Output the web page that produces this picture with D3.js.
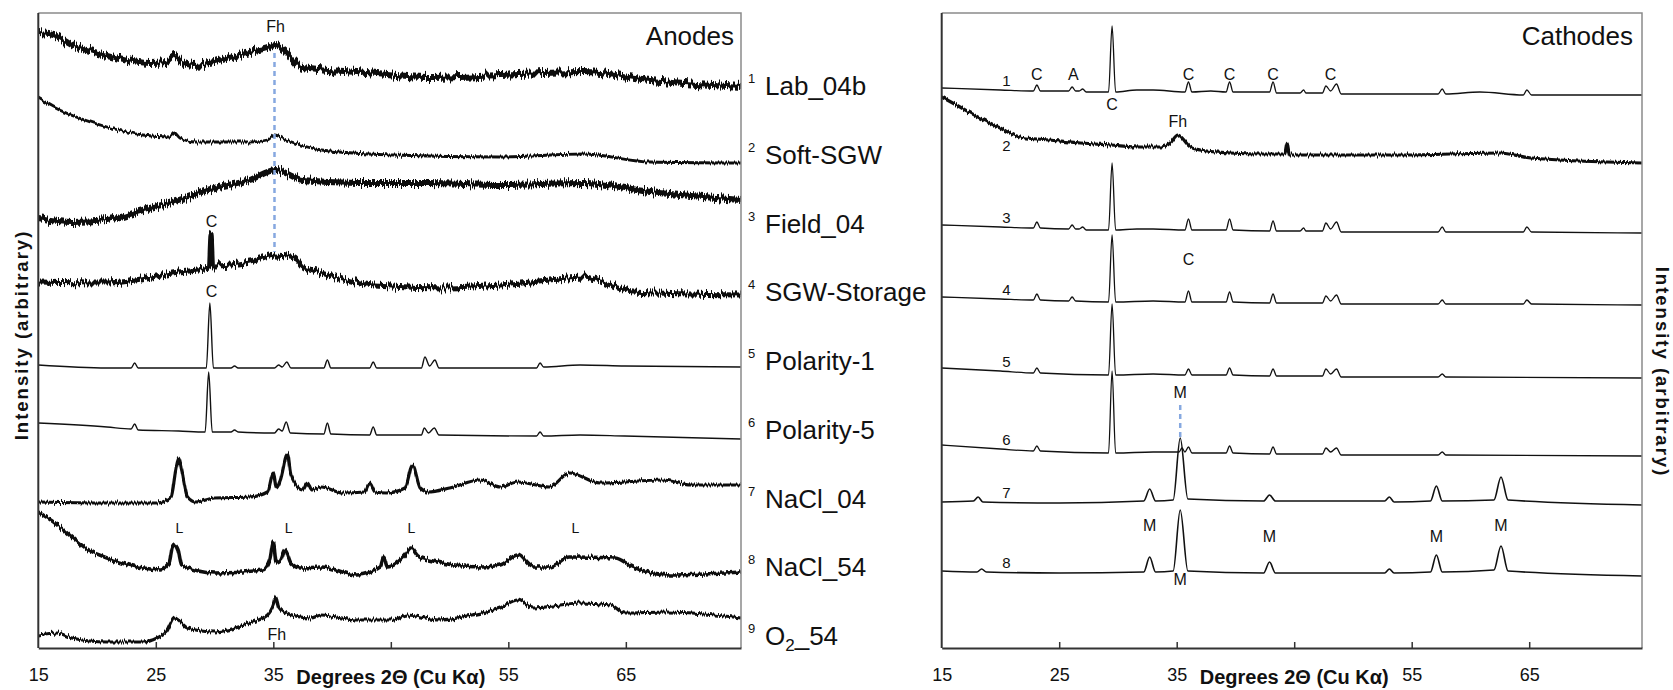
<!DOCTYPE html>
<html>
<head>
<meta charset="utf-8">
<script src="https://cdn.jsdelivr.net/npm/d3@7"></script>
<style>
  body { margin: 0; background: #fff; }
  svg text { font-family: "Liberation Sans", Arial, sans-serif; fill: #111; }
</style>
</head>
<body>
<div id="chart"></div>
<script>
// ---- data: [2theta (deg), intensity (arbitrary, stacked offset)] ----
const anodeNames = ["Lab_04b", "Soft-SGW", "Field_04", "SGW-Storage", "Polarity-1", "Polarity-5", "NaCl_04", "NaCl_54", "O2_54"];
const cathodeNames = ["1", "2", "3", "4", "5", "6", "7", "8"];
const tickValues = [15, 25, 35, 45, 55, 65];
const tickLabels = ["15", "25", "35", "", "55", "65"];

const lab04b = [[15,615],[16.3,613],[17.85,603],[20.85,593],[24.5,585],[25.9,586],[26.6,592],[27.2,586],[28.2,583],[30.0,586],[33.0,596],[34.5,600],[35.2,603],[35.9,598],[37.5,581],[42.1,576],[48.2,570],[54.3,573],[61.4,576],[67.1,568],[74.8,561]];
const softSGW = [[15,550],[16.3,541],[20.85,521],[23.9,513],[26.15,511],[26.6,515],[27.05,510],[28.4,506],[33.0,506],[34.5,508],[35.1,513],[36.1,508],[39.1,498],[45.2,493],[54.3,491],[61.4,494],[67.1,486],[74.8,485]];
const field04 = [[15,430],[17.85,426],[20.85,428],[23.9,438],[26.95,448],[30.0,460],[33.0,468],[35.2,478],[37.5,468],[42.1,465],[48.2,465],[54.3,463],[61.4,465],[67.1,456],[74.8,448]];
const sgwStorage = [[15,366],[20.85,365],[26.95,376],[29.55,380],[29.7,414],[29.85,382],[33.0,386],[35.2,393],[36.8,390],[37.5,381],[39.1,375],[43.65,363],[50.0,360],[54.3,363],[58.5,368],[61.4,371],[65.6,356],[74.8,353]];
const polarity1 = [[15,283],[20.85,280],[22.9,280],[23.2,285],[23.5,280],[29.3,280],[29.6,345],[29.9,280],[31.4,280],[31.7,282],[32.0,280],[35.1,280],[35.45,283],[35.75,281],[36.15,286],[36.5,280],[39.3,280],[39.6,288],[39.9,280],[43.2,280],[43.5,286],[43.8,280],[47.6,280],[47.9,291],[48.3,282],[48.75,288],[49.1,280],[57.4,280],[57.7,285],[58.0,281],[61.1,283],[64.9,282],[74.8,281]];
const polarity5 = [[15,225],[20.85,221],[22.9,219],[23.2,224],[23.5,218],[26.95,217],[29.2,216],[29.5,276],[29.8,216],[31.4,216],[31.7,218],[32.0,216],[35.1,215],[35.45,219],[35.75,217],[36.1,226],[36.45,215],[39.3,214],[39.6,225],[39.9,214],[43.2,213],[43.5,221],[43.8,213],[47.6,213],[47.85,220],[48.2,215],[48.7,220],[49.1,213],[57.4,212],[57.7,216],[58.0,212],[61.1,213],[64.9,212],[74.8,209]];
const nacl04 = [[15,146],[20.85,145],[25.1,145],[26.3,151],[26.7,178],[26.95,190],[27.2,178],[27.7,151],[28.4,146],[30.0,150],[33.0,151],[34.5,156],[35.0,175],[35.25,160],[35.6,168],[36.2,194],[36.5,173],[37.5,158],[37.9,165],[38.3,158],[39.1,161],[40.9,155],[42.75,156],[43.2,165],[43.65,156],[44.6,155],[46.2,160],[46.85,183],[47.5,160],[48.2,156],[50.0,160],[52.6,168],[54.3,161],[55.8,166],[58.5,161],[60.2,175],[62.8,165],[68.2,168],[70.5,163],[74.8,163]];
const nacl54 = [[15,136],[16.3,126],[17.85,111],[19.3,98],[20.85,90],[23.9,80],[25.4,78],[26.15,85],[26.4,100],[26.6,103],[26.9,98],[27.2,83],[30.0,75],[34.1,78],[34.7,88],[35.0,106],[35.25,86],[35.6,88],[36.0,98],[36.5,85],[37.3,80],[39.1,81],[42.1,73],[44.1,81],[44.4,91],[44.7,81],[45.5,85],[46.2,93],[46.7,100],[47.3,92],[48.2,88],[52.8,81],[54.3,83],[55.8,93],[57.1,81],[58.5,81],[60.2,91],[64.1,90],[65.6,81],[68.8,73],[74.8,76]];
const o2_54 = [[15,13],[16.6,15],[17.85,10],[20.85,6],[23.9,6],[25.1,10],[25.9,16],[26.6,30],[27.7,20],[30.0,16],[33.0,25],[34.5,33],[35.0,43],[35.2,51],[35.45,41],[35.9,36],[38.2,30],[39.1,33],[42.1,28],[45.2,28],[46.4,33],[49.1,28],[51.9,33],[54.3,40],[55.8,48],[57.1,40],[61.1,45],[63.7,43],[64.9,35],[68.5,36],[74.8,30]];

const cathode1 = [[15,560],[20.0,558],[22.8,557],[23.1,563],[23.4,557],[25.8,557],[26.1,561],[26.4,557],[26.7,557],[27.0,559],[27.3,556],[29.2,556],[29.5,622],[29.8,556],[31.6,558],[33.0,558],[35.7,556],[36.0,566],[36.3,556],[37.9,557],[39.2,556],[39.5,566],[39.8,556],[42.9,556],[43.2,566],[43.5,555],[45.5,555],[45.8,558],[46.0,555],[47.4,555],[47.7,562],[48.1,557],[48.6,564],[49.0,554],[57.25,554],[57.6,559],[57.9,554],[60.8,556],[64.5,553],[64.8,558],[65.2,553],[74.6,553]];
const cathode2 = [[15,551],[16.56,541],[18.26,530],[19.97,520],[21.67,511],[24.2,508],[26.8,505],[29.35,503],[31.9,501],[33.6,501],[34.45,505],[35.1,513],[36.15,501],[37.0,498],[39.55,495],[42.1,494],[44.2,494],[44.4,505],[44.6,493],[54.05,493],[62.5,495],[65.15,490],[74.6,485]];
const cathode3 = [[15,423],[20.0,421],[22.8,420],[23.1,426],[23.4,420],[25.8,419],[26.1,423],[26.4,419],[26.7,419],[27.0,421],[27.3,418],[29.2,418],[29.5,485],[29.8,418],[31.6,419],[33.0,419],[35.7,418],[36.0,429],[36.3,418],[39.2,418],[39.5,429],[39.8,418],[42.9,417],[43.2,427],[43.5,417],[45.5,417],[45.8,420],[46.0,417],[47.4,417],[47.7,425],[48.1,419],[48.6,426],[49.0,416],[57.25,416],[57.6,421],[57.9,416],[64.5,416],[64.8,421],[65.2,416],[74.6,415]];
const cathode4 = [[15,351],[20.0,349],[22.8,348],[23.1,354],[23.4,348],[25.8,347],[26.1,351],[26.4,347],[29.2,346],[29.5,413],[29.8,346],[33.0,347],[35.7,346],[36.0,357],[36.3,346],[39.2,346],[39.5,356],[39.8,346],[42.9,345],[43.2,354],[43.5,345],[47.4,345],[47.7,352],[48.1,347],[48.6,353],[49.0,344],[57.25,344],[57.6,348],[57.9,344],[64.5,344],[64.8,348],[65.2,344],[74.6,343]];
const cathode5 = [[15,280],[20.0,277],[22.8,275],[23.1,280],[23.4,275],[29.2,273],[29.5,344],[29.8,273],[33.0,274],[35.7,273],[36.0,279],[36.3,273],[39.2,273],[39.5,280],[39.8,273],[42.9,272],[43.2,279],[43.5,272],[47.4,272],[47.7,279],[48.1,274],[48.6,279],[49.0,271],[57.25,271],[57.6,274],[57.9,271],[74.6,270]];
const cathode6 = [[15,203],[20.0,199],[22.8,197],[23.1,202],[23.4,197],[29.2,195],[29.5,277],[29.8,195],[33.0,196],[35.2,196],[35.45,200],[35.7,196],[36.0,201],[36.3,195],[39.2,195],[39.5,202],[39.8,195],[42.9,194],[43.2,201],[43.5,194],[47.4,194],[47.7,200],[48.1,196],[48.6,200],[49.0,193],[57.25,193],[57.6,196],[57.9,193],[74.6,192]];
const cathode7 = [[15,146],[17.7,147],[18.1,151],[18.5,146],[25.0,145],[32.2,147],[32.7,159],[33.2,147],[34.7,148],[35.3,210],[35.95,149],[42.4,147],[42.9,153],[43.4,147],[52.7,147],[53.1,151],[53.5,146],[56.6,147],[57.1,162],[57.6,147],[62.0,148],[62.6,171],[63.2,148],[74.6,143]];
const cathode8 = [[15,77],[18.0,76],[18.4,79],[18.8,76],[25.0,75],[32.2,76],[32.7,91],[33.2,76],[34.7,77],[35.3,138],[35.95,77],[42.4,75],[42.9,86],[43.4,75],[52.7,75],[53.1,79],[53.5,75],[56.6,76],[57.1,93],[57.6,76],[62.0,78],[62.6,102],[63.2,77],[74.6,72]];

const anodeTraces = [lab04b, softSGW, field04, sgwStorage, polarity1, polarity5, nacl04, nacl54, o2_54];
const cathodeTraces = [cathode1, cathode2, cathode3, cathode4, cathode5, cathode6, cathode7, cathode8];

// peak annotations: [text, 2theta, intensity]
const anodeMarks = [["Fh",35.2,616],["C",29.75,421],["C",29.75,351],["L",27.0,115],["L",36.3,115],["L",46.75,115],["L",60.7,115],["Fh",35.3,8]];
const cathodeMarks = [["C",23.1,568],["A",26.2,568],["C",36.0,568],["C",39.5,568],["C",43.2,568],["C",48.1,568],["C",29.5,538],["Fh",35.1,521],["C",36.0,383],["M",35.3,250],["M",32.7,117],["M",42.9,106],["M",57.1,106],["M",62.6,117],["M",35.3,63]];

// ---- layout ----
const W = 1673, H = 690;
const plotTop = 13, plotBottom = 648;
const svg = d3.select("#chart").append("svg").attr("width", W).attr("height", H);

// rough texture for the noisy scans (visual only, vertical jitter per column)
const defs = svg.append("defs");
function grain(id, amount) {
  const f = defs.append("filter").attr("id", id).attr("filterUnits", "userSpaceOnUse")
    .attr("x", 0).attr("y", 0).attr("width", W).attr("height", H);
  f.append("feTurbulence").attr("type", "fractalNoise")
    .attr("baseFrequency", "0.7 0.006").attr("numOctaves", 2).attr("seed", 7).attr("result", "t");
  f.append("feColorMatrix").attr("in", "t").attr("type", "matrix")
    .attr("values", "0 0 0 0 0.5  0 1 0 0 0  0 0 0 0 0  0 0 0 0 1").attr("result", "m");
  f.append("feDisplacementMap").attr("in", "SourceGraphic").attr("in2", "m")
    .attr("scale", amount).attr("xChannelSelector", "R").attr("yChannelSelector", "G");
}
grain("heavy", 12);
grain("light", 6);

const y = d3.scaleLinear().domain([0, 635]).range([plotBottom, plotTop]);
const xA = d3.scaleLinear().domain([15, 74.8]).range([38.3, 741]);
const xC = d3.scaleLinear().domain([15, 74.6]).range([941.7, 1642]);

const anodeWidth = [6, 2.8, 6, 5, 1.4, 1.4, 3.2, 3.6, 3.2];
const anodeNoise = ["heavy", "light", "heavy", "heavy", null, null, "light", "light", "light"];
const cathodeWidth = [1.3, 3.2, 1.3, 1.3, 1.3, 1.3, 1.6, 1.6];
const cathodeNoise = [null, "light", null, null, null, null, null, null];

function drawPanel(x, traces, widths, noise, id) {
  svg.append("clipPath").attr("id", id)
    .append("rect").attr("x", x.range()[0]).attr("y", plotTop)
    .attr("width", x.range()[1] - x.range()[0]).attr("height", plotBottom - plotTop);

  const line = d3.line().x(d => x(d[0])).y(d => y(d[1])).curve(d3.curveMonotoneX);
  const g = svg.append("g").attr("clip-path", `url(#${id})`);
  g.selectAll("path").data(traces).enter().append("path")
    .attr("d", d => line(d))
    .attr("fill", "none")
    .attr("stroke", "#111")
    .attr("stroke-width", (d, i) => widths[i])
    .attr("stroke-linejoin", "round")
    .attr("filter", (d, i) => noise[i] ? `url(#${noise[i]})` : null);

  // frame: top/right grey, axes dark
  svg.append("path")
    .attr("d", `M${x.range()[0]},${plotTop}H${x.range()[1]}V${plotBottom}`)
    .attr("fill", "none").attr("stroke", "#8a8a8a").attr("stroke-width", 1.5);
  svg.append("line").attr("x1", x.range()[0]).attr("x2", x.range()[0])
    .attr("y1", plotTop).attr("y2", plotBottom).attr("stroke", "#333").attr("stroke-width", 2);

  const ax = svg.append("g").attr("transform", `translate(0,${plotBottom})`)
    .call(d3.axisBottom(x).tickValues(tickValues)
      .tickFormat((d, i) => tickLabels[i]).tickSizeInner(-6).tickSizeOuter(0).tickPadding(20));
  ax.select(".domain").attr("stroke", "#333").attr("stroke-width", 2);
  ax.selectAll(".tick line").attr("stroke", "#333").attr("stroke-width", 1.5)
    .filter(d => d === 15).remove();
  ax.selectAll(".tick text").style("font-size", "18px").attr("fill", "#111");

  svg.append("text")
    .attr("x", x(45)).attr("y", 684)
    .attr("text-anchor", "middle")
    .style("font-size", "20px").style("font-weight", "bold")
    .text("Degrees 2\u0398 (Cu K\u03b1)");
}

drawPanel(xA, anodeTraces, anodeWidth, anodeNoise, "clipA");
drawPanel(xC, cathodeTraces, cathodeWidth, cathodeNoise, "clipC");

// Fh / M guide lines
svg.append("line")
  .attr("x1", xA(35.1)).attr("x2", xA(35.1)).attr("y1", y(595)).attr("y2", y(396))
  .attr("stroke", "#86a8e0").attr("stroke-width", 2.5).attr("stroke-dasharray", "5,4");
svg.append("line")
  .attr("x1", xC(35.3)).attr("x2", xC(35.3)).attr("y1", y(243)).attr("y2", y(207))
  .attr("stroke", "#86a8e0").attr("stroke-width", 2.5).attr("stroke-dasharray", "5,4");

// peak letters
svg.append("g").selectAll("text").data(anodeMarks).enter().append("text")
  .attr("x", d => xA(d[1])).attr("y", d => y(d[2]))
  .attr("text-anchor", "middle")
  .style("font-size", d => d[0] === "L" ? "14px" : "16px")
  .text(d => d[0]);
svg.append("g").selectAll("text").data(cathodeMarks).enter().append("text")
  .attr("x", d => xC(d[1])).attr("y", d => y(d[2]))
  .attr("text-anchor", "middle")
  .style("font-size", "16px")
  .text(d => d[0]);

// panel titles
svg.append("text").attr("x", 734).attr("y", 45).attr("text-anchor", "end")
  .style("font-size", "26px").text("Anodes");
svg.append("text").attr("x", 1633).attr("y", 45).attr("text-anchor", "end")
  .style("font-size", "26px").text("Cathodes");

// anode sample names with numbers
anodeNames.forEach((name, i) => {
  const by = 95 + i * 68.75;
  svg.append("text").attr("x", 748).attr("y", by - 12)
    .style("font-size", "13px").text(i + 1);
  const t = svg.append("text").attr("x", 765).attr("y", by).style("font-size", "26px");
  if (name === "O2_54") {
    t.append("tspan").text("O");
    t.append("tspan").attr("dy", 6).style("font-size", "17px").text("2");
    t.append("tspan").attr("dy", -6).text("_54");
  } else {
    t.text(name);
  }
});

// cathode sample numbers, next to the scan near 20 deg
cathodeNames.forEach((name, i) => {
  const near = cathodeTraces[i].reduce((a, b) => Math.abs(b[0] - 20) < Math.abs(a[0] - 20) ? b : a);
  const yy = y(near[1]);
  svg.append("text").attr("x", xC(20.5)).attr("y", i === 1 ? yy + 23 : yy - 4)
    .attr("text-anchor", "middle").style("font-size", "15px").text(name);
});

// y axis titles
svg.append("text")
  .attr("transform", "translate(28,335) rotate(-90)")
  .attr("text-anchor", "middle")
  .style("font-size", "18.5px").style("font-weight", "bold").style("letter-spacing", "2px")
  .text("Intensity (arbitrary)");
svg.append("text")
  .attr("transform", "translate(1656,372) rotate(90)")
  .attr("text-anchor", "middle")
  .style("font-size", "18.5px").style("font-weight", "bold").style("letter-spacing", "2px")
  .text("Intensity (arbitrary)");
</script>
</body>
</html>
